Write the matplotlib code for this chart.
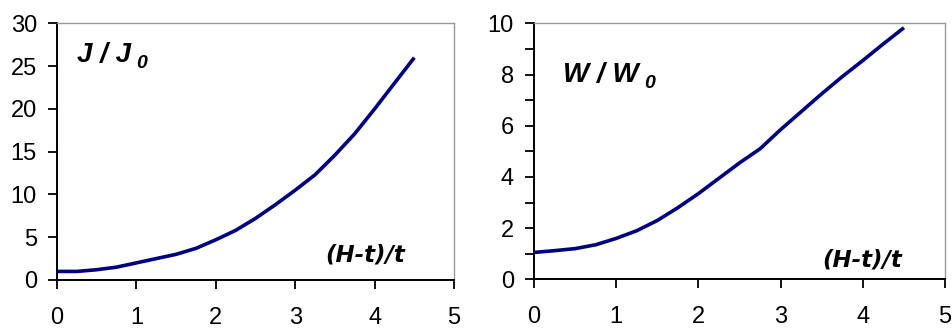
import matplotlib
matplotlib.use("Agg")
import matplotlib.pyplot as plt
from matplotlib.ticker import MultipleLocator

plt.rcParams['font.family'] = ['Liberation Sans', 'DejaVu Sans']

x = [0, 0.25, 0.5, 0.75, 1, 1.25, 1.5, 1.75, 2, 2.25, 2.5, 2.75, 3, 3.25, 3.5, 3.75, 4, 4.25, 4.5]
j_ratio = [1.0, 1.0, 1.2, 1.5, 2.0, 2.5, 3.0, 3.7, 4.7, 5.8, 7.2, 8.8, 10.5, 12.3, 14.6, 17.1, 20.0, 23.0, 26.0]
w_ratio = [1.05, 1.12, 1.2, 1.35, 1.6, 1.9, 2.3, 2.8, 3.35, 3.95, 4.55, 5.1, 5.85, 6.55, 7.25, 7.92, 8.55, 9.2, 9.83]

x_ticks = [0, 1, 2, 3, 4, 5]
j_ticks = [0, 5, 10, 15, 20, 25, 30]
w_ticks = [0, 2, 4, 6, 8, 10]

fig = plt.figure(figsize=(9.52, 3.29), dpi=100)
ax1 = fig.add_axes([0.0599, 0.149, 0.417, 0.780])
ax2 = fig.add_axes([0.561, 0.151, 0.4317, 0.778])

navy = '#000080'

def style(ax, yticks, ymax, minor=None):
    ax.set_xlim(0, 5)
    ax.set_ylim(0, ymax)
    ax.set_xticks(x_ticks)
    ax.set_yticks(yticks)
    if minor:
        ax.yaxis.set_minor_locator(MultipleLocator(minor))
        ax.tick_params(axis='y', which='minor', length=6.5, width=1.3, direction='out', color='black')
    ax.tick_params(axis='x', which='major', length=6.5, width=1.3, direction='out', pad=13, labelsize=17)
    ax.tick_params(axis='y', which='major', length=6.5, width=1.3, direction='out', pad=8, labelsize=17)
    for s in ['top', 'right']:
        ax.spines[s].set_color('#999999')
        ax.spines[s].set_linewidth(1.0)
    for s in ['left', 'bottom']:
        ax.spines[s].set_color('black')
        ax.spines[s].set_linewidth(1.4)

lab_kw = dict(fontweight='bold', fontstyle='italic')
xlab_kw = dict(fontsize=16.5, fontweight='bold', fontstyle='oblique', family=['DejaVu Sans'])

ax1.plot(x, j_ratio, color=navy, lw=2.6, solid_capstyle='butt')
style(ax1, j_ticks, 30)
t1 = ax1.text(0.25, 25.45, 'J / J', fontsize=20, **lab_kw)
ax1.annotate('0', xy=(1, 0), xycoords=t1, xytext=(4, -3), textcoords='offset points',
             fontsize=14, va='bottom', **lab_kw)
ax1.text(3.375, 2.14, '(H-t)/t', **xlab_kw)

ax2.plot(x, w_ratio, color=navy, lw=2.6, solid_capstyle='butt')
style(ax2, w_ticks, 10, minor=1)
t2 = ax2.text(0.35, 7.7, 'W / W', fontsize=20, **lab_kw)
ax2.annotate('0', xy=(1, 0), xycoords=t2, xytext=(4, -3), textcoords='offset points',
             fontsize=14, va='bottom', **lab_kw)
ax2.text(3.5, 0.49, '(H-t)/t', **xlab_kw)

fig.savefig('out.png', dpi=100)
